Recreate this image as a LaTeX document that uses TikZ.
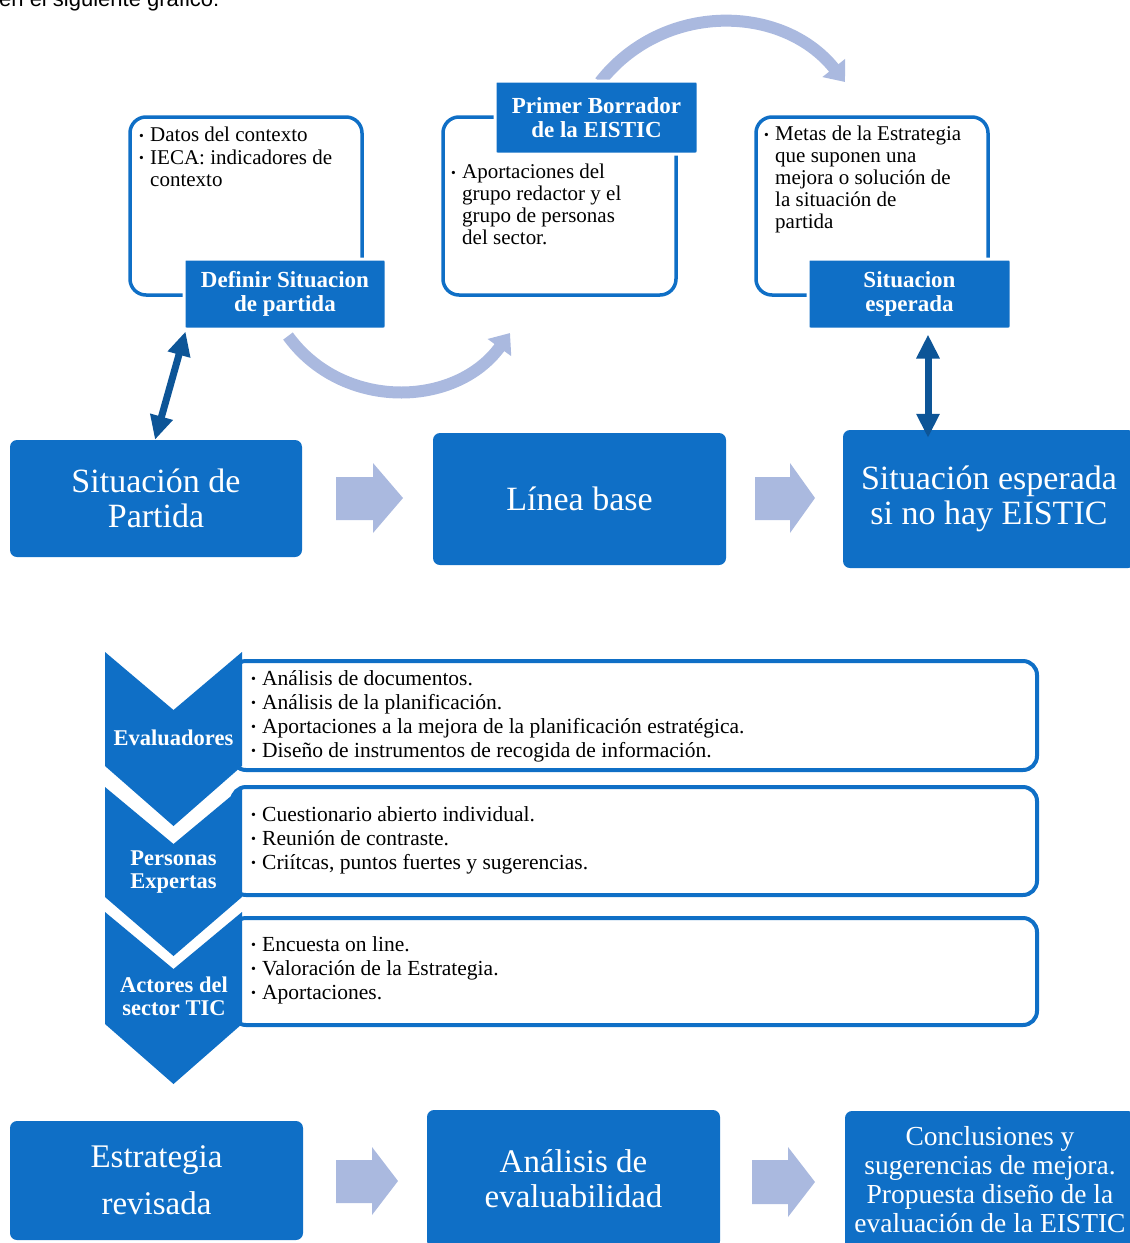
\documentclass[tikz,border=0pt]{standalone}
\usepackage{fontspec}
\usepackage{graphicx}
\setmainfont{Liberation Serif}
\newfontfamily\sansf{Liberation Sans}
\usetikzlibrary{arrows.meta,calc}
\definecolor{mblue}{HTML}{0F6FC6}
\definecolor{dblue}{HTML}{0D5597}
\definecolor{lav}{HTML}{AAB9DF}
\newcommand\bul{\makebox[11pt][l]{\raisebox{1.5pt}{\scalebox{0.65}{\textbullet}}}}
\newcommand\ind{\hspace*{11pt}}
\begin{document}
\begin{tikzpicture}[x=1pt,y=-1pt,
  bigbox/.style={rectangle,rounded corners=7pt,fill=mblue,text=white,align=center,inner sep=0pt,font=\fontsize{34}{35}\selectfont},
  outbox/.style={rectangle,draw=mblue,line width=3.5pt,rounded corners=16pt,inner sep=0pt},
  lbl/.style={rectangle,rounded corners=2pt,fill=mblue,draw=white,line width=3pt,text=white,align=center,inner sep=0pt,font=\bfseries\fontsize{23}{24}\selectfont},
  btxt/.style={anchor=north west,align=left,inner sep=0pt,font=\fontsize{21}{22.5}\selectfont},
  ltxt/.style={anchor=north west,align=left,inner sep=0pt,font=\fontsize{21.5}{24}\selectfont},
  chevtxt/.style={align=center,text=white,inner sep=0pt,font=\bfseries\fontsize{22.5}{23}\selectfont},
  listbox/.style={draw=mblue,fill=white,line width=4pt,rounded corners=14pt},
  curv/.style={draw=lav,line width=12pt,-{Triangle[width=28pt,length=18pt]}},
  dbl/.style={draw=dblue,line width=7pt,{Triangle[width=22pt,length=24pt]}-{Triangle[width=22pt,length=24pt]}},
  blk/.style={fill=lav}]
\useasboundingbox (0,0) rectangle (1130,1243);
\clip (0,0) rectangle (1130,1243);

% clipped header text
\node[anchor=base west,inner sep=0pt,font=\sansf\fontsize{22}{24}\selectfont] (hdr) at (-1,6) {en el siguiente gráfico:};

% outline boxes
\node[outbox,minimum width=232pt,minimum height=178pt] (oA) at (246,206) {};
\node[outbox,minimum width=233pt,minimum height=178pt] (oB) at (559.5,206) {};
\node[outbox,minimum width=232pt,minimum height=178pt] (oC) at (872,206) {};

% texts in outline boxes
\node[btxt] (tA) at (139,127) {\bul Datos del contexto\\ \bul IECA:  indicadores de\\ \ind contexto};
\node[btxt,font=\fontsize{21}{22}\selectfont] (tB) at (451,164) {\bul Aportaciones del\\ \ind grupo redactor y el\\ \ind grupo de personas\\ \ind del sector.};
\node[btxt,font=\fontsize{21}{22}\selectfont] (tC) at (764,126) {\bul Metas de la Estrategia\\ \ind que suponen una\\ \ind mejora o solución de\\ \ind la situación de\\ \ind partida};

% curved arrows
\coordinate (cA1) at (288,336);
\coordinate (cA2) at (510,333);
\coordinate (cB1) at (600,82);
\coordinate (cB2) at (845,82);
\draw[curv] (cA1) .. controls (342.5,411) and (455.5,408) .. (cA2);
\draw[curv] (cB1) .. controls (662.7,1.5) and (782.3,3.5) .. (cB2);

% labels
\node[lbl,minimum width=202pt,minimum height=70pt] (lA) at (285,294) {Definir Situacion\\de partida};
\node[lbl,minimum width=203pt,minimum height=73pt] (lB) at (596.5,117.5) {Primer Borrador\\de la EISTIC};
\node[lbl,minimum width=203pt,minimum height=70pt] (lC) at (909.5,294) {Situacion\\esperada};

% main row 1
\node[bigbox,minimum width=292pt,minimum height=117pt] (spA) at (156,498.5) {Situación de\\Partida};
\node[bigbox,minimum width=293pt,minimum height=132pt] (lb) at (579.5,499) {Línea base};
\node[bigbox,minimum width=292pt,minimum height=138pt] (se) at (989,499) {Situación esperada\\si no hay EISTIC};

% block arrows row 1
\fill[blk] (336,477) -- (373,477) -- (373,463) -- (403,498) -- (373,533) -- (373,520) -- (336,520) -- cycle;
\fill[blk] (755,477) -- (790,477) -- (790,463) -- (815,498) -- (790,533) -- (790,520) -- (755,520) -- cycle;

% double arrows
\draw[dbl] ([xshift=3pt,yshift=-1pt]lA.south west) -- ([xshift=-1pt]spA.north);
\draw[dbl] ([xshift=18.5pt,yshift=-4pt]lC.south) -- ([xshift=18.5pt,yshift=-8pt]lC.south |- se.north);

% list boxes
\draw[listbox] (232,661) rectangle (1037,770);
\draw[listbox] (232,787) rectangle (1037,895);
\draw[listbox] (232,918) rectangle (1037,1025);

% chevrons
\fill[mblue] (105,652) -- (173.5,710) -- (242,652) -- (242,766) -- (173.5,826) -- (105,766) -- cycle;
\fill[mblue] (105,787) -- (173.5,844) -- (242,787) -- (242,897) -- (173.5,956) -- (105,897) -- cycle;
\fill[mblue] (105,912) -- (173.5,969) -- (242,912) -- (242,1024) -- (173.5,1084) -- (105,1024) -- cycle;

\node[chevtxt] (ev) at (173.5,738) {Evaluadores};
\node[chevtxt] (pe) at (173.5,872) {Personas\\Expertas};
\node[chevtxt] (ac) at (174,996) {Actores del\\sector TIC};

% list texts
\node[ltxt] (l1) at (251,670) {\bul Análisis de  documentos.\\ \bul Análisis de la planificación.\\ \bul Aportaciones a la mejora de la planificación estratégica.\\ \bul Diseño de instrumentos de recogida de información.};
\node[ltxt] (l2) at (251,806) {\bul Cuestionario abierto individual.\\ \bul Reunión de contraste.\\ \bul Criítcas, puntos fuertes y sugerencias.};
\node[ltxt] (l3) at (251,936) {\bul Encuesta on line.\\ \bul Valoración de la Estrategia.\\ \bul Aportaciones.};

% bottom row
\node[bigbox,minimum width=293pt,minimum height=119pt,font=\fontsize{33}{35}\selectfont] (er) at (156.5,1180.5) {Estrategia\\[12pt]revisada};
\node[bigbox,minimum width=293pt,minimum height=138pt,font=\fontsize{33}{35}\selectfont] (ae) at (573.5,1179) {Análisis de\\evaluabilidad};
\node[bigbox,minimum width=290pt,minimum height=138pt,font=\fontsize{27.5}{29}\selectfont] (cs) at (990,1180) {Conclusiones y\\sugerencias de mejora.\\Propuesta diseño de la\\evaluación de la EISTIC};

\fill[blk] (336,1160) -- (372,1160) -- (372,1147) -- (398,1181) -- (372,1215) -- (372,1203) -- (336,1203) -- cycle;
\fill[blk] (752,1160) -- (788,1160) -- (788,1147) -- (815,1182) -- (788,1217) -- (788,1204) -- (752,1204) -- cycle;
\end{tikzpicture}
\end{document}
